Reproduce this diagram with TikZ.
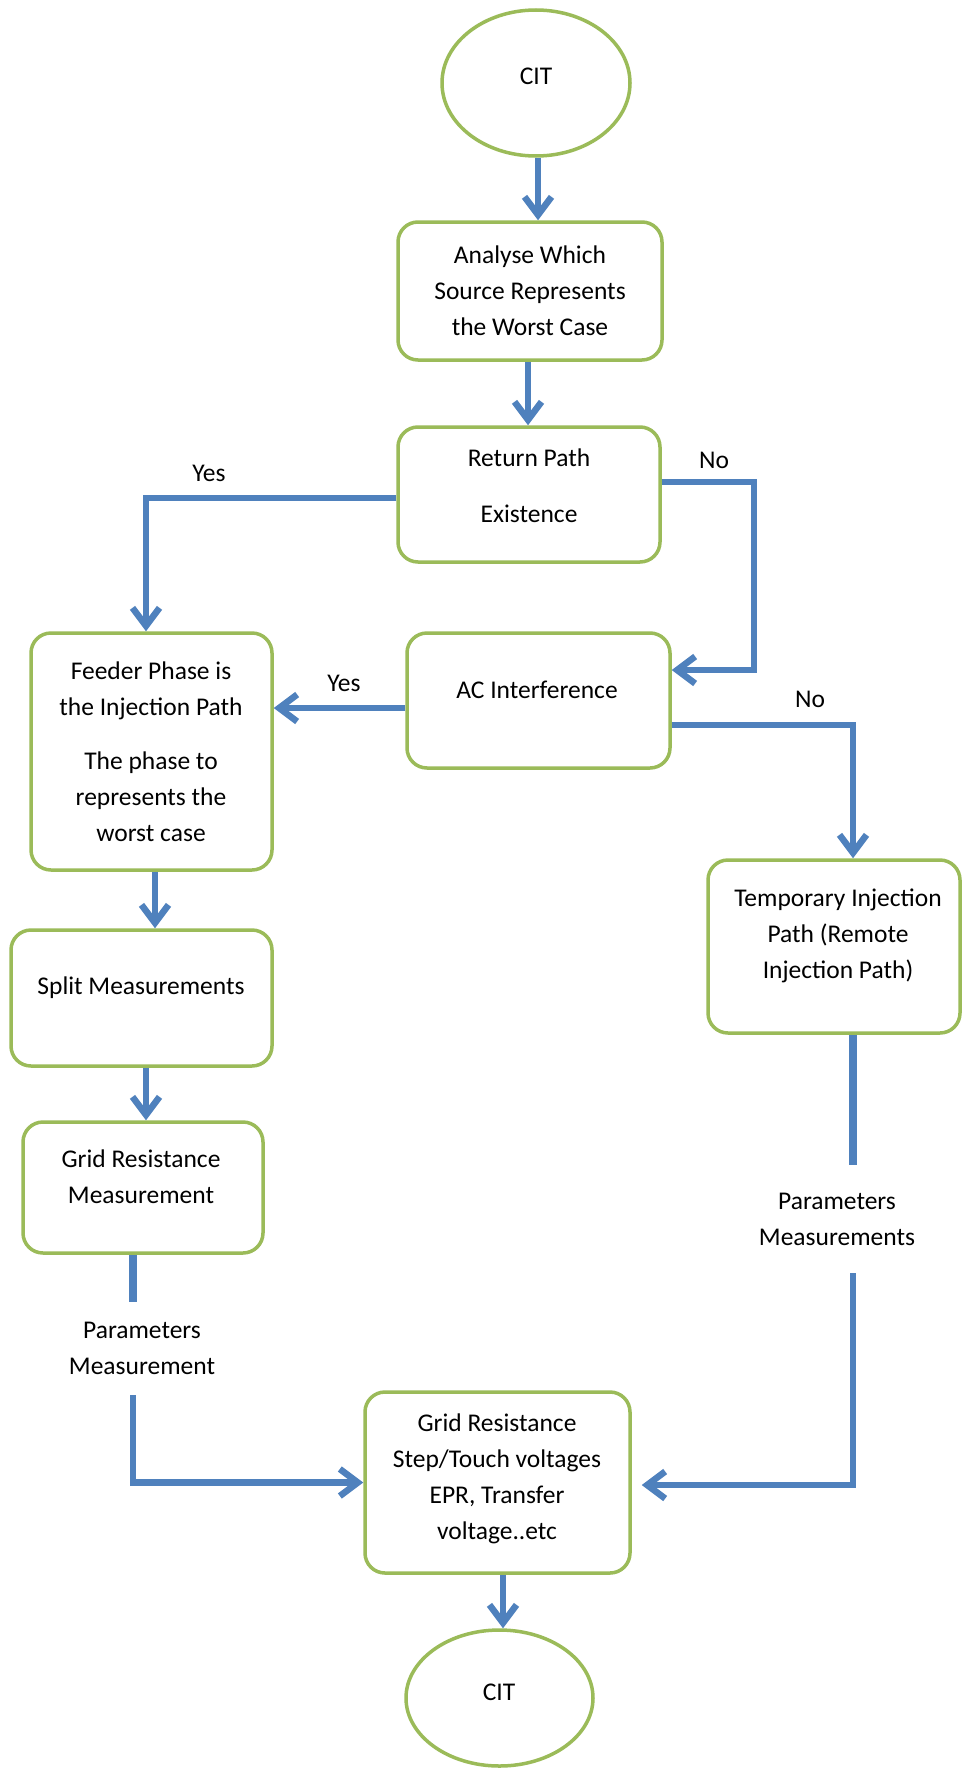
\documentclass[tikz,border=0pt]{standalone}
\usepackage{fontspec}
\setmainfont{Carlito}
\usetikzlibrary{arrows.meta,shapes.geometric}
\definecolor{lblue}{HTML}{4F81BD}
\definecolor{lgreen}{HTML}{9BBB59}
\begin{document}
\begin{tikzpicture}[x=1pt,y=-1pt,
  box/.style={draw=lgreen,line width=3.5pt,rounded corners=20pt,inner sep=0pt,fill=white},
  oval/.style={ellipse,draw=lgreen,line width=3.5pt,inner sep=0pt,fill=white},
  txt/.style={font=\fontsize{25.5}{36}\selectfont,align=center,inner sep=0pt,text=black},
  conn/.style={draw=lblue,line width=6.5pt},
  seg/.style={draw=lblue,line width=8pt},
  arr/.style={conn,-{Straight Barb[length=18pt,width=27pt]}}
]
\fill[white] (0,0) rectangle (963,1769);
\useasboundingbox (0,0) rectangle (963,1769);

% shapes
\node[oval,minimum width=188pt,minimum height=146pt] (cit1) at (536,83) {};
\node[box,minimum width=264pt,minimum height=138pt] (an) at (530,291) {};
\node[box,minimum width=262pt,minimum height=135pt] (ret) at (529,494.5) {};
\node[box,minimum width=263pt,minimum height=135pt] (ac) at (538.5,700.5) {};
\node[box,minimum width=241pt,minimum height=237pt] (feeder) at (151.5,751.5) {};
\node[box,minimum width=261pt,minimum height=136pt] (split) at (141.5,998) {};
\node[box,minimum width=240pt,minimum height=131pt] (grid) at (143,1187.5) {};
\node[box,minimum width=252pt,minimum height=173pt] (temp) at (834,946.5) {};
\node[box,minimum width=265pt,minimum height=181pt] (final) at (497.5,1482.5) {};
\node[oval,minimum width=187pt,minimum height=136pt] (cit2) at (499.5,1698) {};

% texts
\node[txt] (cit1t) at (536,76) {CIT};
\node[txt] (ant) at (530,291) {Analyse Which\\Source Represents\\the Worst Case};
\node[txt] (rett) at (529,486) {Return Path\\[20pt]Existence};
\node[txt] (act) at (537,690) {AC Interference};
\node[txt] (feedert) at (151,752) {Feeder Phase is\\the Injection Path\\[18pt]The phase to\\represents the\\worst case};
\node[txt] (splitt) at (141,988) {Split Measurements};
\node[txt] (gridt) at (141,1177) {Grid Resistance\\Measurement};
\node[txt] (tempt) at (838,936) {Temporary Injection\\Path (Remote\\Injection Path)};
\node[txt] (finalt) at (497,1479) {Grid Resistance\\Step/Touch voltages\\EPR, Transfer\\voltage..etc};
\node[txt] (cit2t) at (499,1692) {CIT};

% labels
\node[txt] (yes1) at (209,473) {Yes};
\node[txt] (no1) at (714,460) {No};
\node[txt] (yes2) at (344,683) {Yes};
\node[txt] (no2) at (810,699) {No};
\node[txt,minimum height=93pt] (pl) at (142,1348.5) {Parameters\\Measurement};
\node[txt,minimum height=108pt] (pr) at (837,1219) {Parameters\\Measurements};

% connectors
\draw[arr] ([xshift=2pt]cit1.south) -- ([xshift=2pt]cit1.south |- an.north);
\draw[arr] ([xshift=-2pt]an.south) -- ([xshift=-2pt]an.south |- ret.north);
\draw[arr] ([yshift=-3.5pt]ret.west) -| ([xshift=-5.5pt]feeder.north);
\draw[arr] ([yshift=12.5pt]ret.east) -- ++(92,0) |- ([yshift=30.5pt]ac.east);
\draw[arr] ([yshift=-7.5pt]ac.west) -- ([yshift=-7.5pt]ac.west -| feeder.east);
\draw[arr] ([yshift=-24.5pt]ac.east) -| ([xshift=19pt]temp.north);
\draw[arr] ([xshift=3.5pt]feeder.south) -- ([xshift=3.5pt]feeder.south |- split.north);
\draw[arr] ([xshift=4.5pt]split.south) -- ([xshift=4.5pt]split.south |- grid.north);
\draw[seg] ([xshift=-10pt]grid.south) -- ([xshift=-10pt]grid.south |- pl.north);
\draw[arr] ([xshift=-10pt]grid.south |- pl.south) |- (final.west);
\draw[seg] ([xshift=19pt]temp.south) -- ([xshift=19pt]temp.south |- pr.north);
\draw[arr] ([xshift=19pt]temp.south |- pr.south) |- ([xshift=10pt,yshift=-2.5pt]final.east);
\draw[arr] ([xshift=5.5pt]final.south) -- ([xshift=5.5pt]final.south |- cit2.north);
\end{tikzpicture}
\end{document}
